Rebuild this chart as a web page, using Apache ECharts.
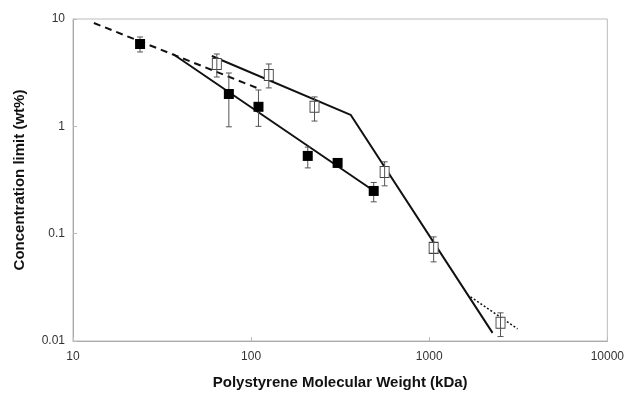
<!DOCTYPE html>
<html>
<head>
<meta charset="utf-8">
<script src="https://cdn.jsdelivr.net/npm/echarts@6/dist/echarts.min.js"></script>
<style>
  html, body { margin: 0; padding: 0; background: #fff; }
  #chart { width: 627px; height: 396px; }
</style>
</head>
<body>
<div id="chart"></div>
<script>
// data
var filledX = [23.8, 75, 110, 208, 306, 488];
var filledY = [5.85, 2.0, 1.52, 0.53, 0.456, 0.25];
var filledLow = [4.93, 0.99, 1.0, 0.41, 0.42, 0.198];
var filledHigh = [6.8, 3.14, 2.18, 0.64, 0.49, 0.30];

var openX = [64.2, 125.7, 227, 562, 1059, 2514];
var openY = [3.81, 3.01, 1.52, 0.376, 0.0738, 0.0148];
var openLow = [2.88, 2.28, 1.12, 0.279, 0.0546, 0.011];
var openHigh = [4.72, 3.81, 1.88, 0.467, 0.0933, 0.0183];

var dashedX = [13.1, 107.7];
var dashedY = [9.18, 2.28];
var lowerX = [36.4, 490];
var lowerY = [4.72, 0.25];
var upperX = [60.2, 362, 2268];
var upperY = [4.52, 1.28, 0.0119];
var dottedX = [1706, 3131];
var dottedY = [0.0258, 0.013];

var xTicks = [10, 100, 1000, 10000];
var yTicks = [0.01, 0.1, 1, 10];

function pairs(xs, ys) {
	return xs.map(function (x, i) { return [x, ys[i]]; });
}
function bars(xs, lo, hi) {
	return xs.map(function (x, i) { return [x, lo[i], hi[i]]; });
}
function plain(v) {
	return String(+v.toPrecision(3));
}

// vertical error bar with caps
function errorBar(params, api) {
	var top = api.coord([api.value(0), api.value(2)]);
	var bot = api.coord([api.value(0), api.value(1)]);
	var w = 3;
	var style = { stroke: '#555', lineWidth: 1 };
	return {
		type: 'group',
		children: [
			{ type: 'line', shape: { x1: top[0], y1: top[1], x2: bot[0], y2: bot[1] }, style: style },
			{ type: 'line', shape: { x1: top[0] - w, y1: top[1], x2: top[0] + w, y2: top[1] }, style: style },
			{ type: 'line', shape: { x1: bot[0] - w, y1: bot[1], x2: bot[0] + w, y2: bot[1] }, style: style }
		]
	};
}

function fitLine(data, type, width) {
	return {
		type: 'line', data: data, symbol: 'none', z: 3, silent: true,
		lineStyle: { color: '#111', width: width, type: type }
	};
}

var chart = echarts.init(document.getElementById('chart'));
chart.setOption({
	animation: false,
	textStyle: { fontFamily: 'Liberation Sans, Arial, sans-serif' },
	grid: { left: 73, right: 19, top: 19, bottom: 55, show: true, borderColor: '#bbb', borderWidth: 1 },
	xAxis: {
		type: 'log', logBase: 10, min: xTicks[0], max: xTicks[xTicks.length - 1],
		name: 'Polystyrene Molecular Weight (kDa)', nameLocation: 'middle', nameGap: 34,
		nameTextStyle: { fontSize: 15, fontWeight: 'bold', color: '#111' },
		axisLine: { lineStyle: { color: '#aaa' } },
		axisTick: { inside: true, length: 4, lineStyle: { color: '#bbb' } },
		minorTick: { show: false },
		splitLine: { show: false },
		axisLabel: { fontSize: 12, color: '#333', margin: 10, formatter: plain }
	},
	yAxis: {
		type: 'log', logBase: 10, min: yTicks[0], max: yTicks[yTicks.length - 1],
		name: 'Concentration limit (wt%)', nameLocation: 'middle', nameGap: 46,
		nameTextStyle: { fontSize: 15, fontWeight: 'bold', color: '#111' },
		axisLine: { lineStyle: { color: '#aaa' } },
		axisTick: { inside: true, length: 4, lineStyle: { color: '#bbb' } },
		splitLine: { show: false },
		axisLabel: { fontSize: 12, color: '#333', margin: 8, formatter: plain }
	},
	series: [
		fitLine(pairs(dashedX, dashedY), [7, 5], 2),
		fitLine(pairs(lowerX, lowerY), 'solid', 2),
		fitLine(pairs(upperX, upperY), 'solid', 2),
		fitLine(pairs(dottedX, dottedY), [2, 2], 1.5),
		{
			type: 'scatter', data: pairs(openX, openY), symbol: 'rect', symbolSize: [9, 11], z: 4,
			itemStyle: { color: '#fff', borderColor: '#444', borderWidth: 1, opacity: 1 }
		},
		{ type: 'custom', data: bars(filledX, filledLow, filledHigh), renderItem: errorBar, z: 5, silent: true },
		{ type: 'custom', data: bars(openX, openLow, openHigh), renderItem: errorBar, z: 5, silent: true },
		{
			type: 'scatter', data: pairs(filledX, filledY), symbol: 'rect', symbolSize: 10, z: 6,
			itemStyle: { color: '#000', opacity: 1 }
		}
	]
});
</script>
</body>
</html>
